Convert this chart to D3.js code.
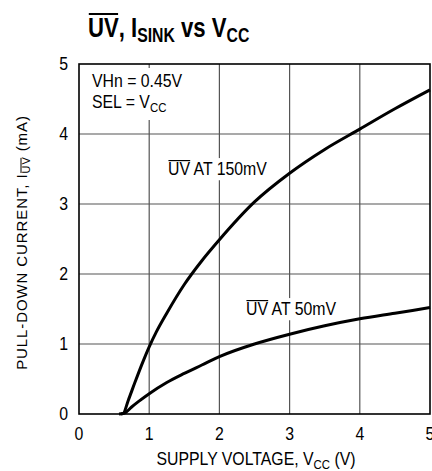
<!DOCTYPE html>
<html>
<head>
<meta charset="utf-8">
<script src="https://cdn.jsdelivr.net/npm/d3@7"></script>
<style>
	body { margin: 0; background: #fff; }
	svg { display: block; font-family: 'Liberation Sans', Arial, sans-serif; }
</style>
</head>
<body>
<script>
// tick values
var xTicks = [0, 1, 2, 3, 4, 5];
var yTicks = [0, 1, 2, 3, 4, 5];

// UV at 150mV
var vcc150 = [0.57, 0.63, 0.7, 0.8, 0.9, 1.0, 1.1, 1.25, 1.5, 1.75, 2.0, 2.5, 3.0, 3.5, 4.0, 4.5, 5.0];
var i150 = [0, 0.01, 0.19, 0.46, 0.72, 0.96, 1.17, 1.44, 1.85, 2.19, 2.49, 3.03, 3.44, 3.78, 4.07, 4.36, 4.63];

// UV at 50mV
var vcc50 = [0.6, 0.66, 0.75, 0.85, 1.0, 1.25, 1.5, 1.75, 2.0, 2.5, 3.0, 3.5, 4.0, 4.5, 5.0];
var i50 = [0, 0.02, 0.1, 0.18, 0.29, 0.45, 0.58, 0.7, 0.82, 1.0, 1.14, 1.26, 1.36, 1.44, 1.52];

var W = 432, H = 471;
var SX = 0.88; // squeeze text to look like a condensed face
var svg = d3.select('body').append('svg').attr('width', W).attr('height', H);

var x = d3.scaleLinear().domain([0, 5]).range([79, 430]);
var y = d3.scaleLinear().domain([0, 5]).range([414, 64]);

// text placed in a squeezed group
function ctext(xp, yp, size, anchor, sx) {
	var g = svg.append('g').attr('transform', 'translate(' + xp + ',' + yp + ') scale(' + (sx || SX) + ',1)');
	var t = g.append('text').attr('font-size', size).attr('text-anchor', anchor || 'start');
	return t;
}

// grid
var grid = svg.append('g');
grid.selectAll('line.gx').data(xTicks.slice(1, -1)).enter().append('line')
	.attr('x1', function(d) { return x(d); }).attr('x2', function(d) { return x(d); })
	.attr('y1', y(0)).attr('y2', y(5))
	.attr('stroke', '#555').attr('stroke-width', 1.2);
grid.selectAll('line.gy').data(yTicks.slice(1, -1)).enter().append('line')
	.attr('y1', function(d) { return y(d); }).attr('y2', function(d) { return y(d); })
	.attr('x1', x(0)).attr('x2', x(5))
	.attr('stroke', '#555').attr('stroke-width', 1.2);

// frame
svg.append('rect')
	.attr('x', x(0)).attr('y', y(5))
	.attr('width', x(5) - x(0)).attr('height', y(0) - y(5))
	.attr('fill', 'none').attr('stroke', '#000').attr('stroke-width', 1.6);

// tick labels
xTicks.forEach(function(d) {
	ctext(x(d), 440, 18, 'middle').text(d);
});
yTicks.forEach(function(d) {
	ctext(68, y(d) + 6, 18, 'end').text(d);
});

// label with white background and overlined part
function label(xp, yp, parts) {
	var t = ctext(xp, yp, 18);
	var g = d3.select(t.node().parentNode);
	var over = [];
	parts.forEach(function(p) {
		var ts = t.append('tspan').text(p.t);
		if (p.over) over.push(ts);
	});
	var b = t.node().getBBox();
	g.insert('rect', 'text').attr('fill', '#fff')
		.attr('x', b.x - 2).attr('y', b.y - 1).attr('width', b.width + 4).attr('height', b.height + 2);
	over.forEach(function(ts) {
		var ob = ts.node().getBBox();
		g.append('line').attr('x1', ob.x + 0.5).attr('x2', ob.x + ob.width - 0.5)
			.attr('y1', ob.y + 1.5).attr('y2', ob.y + 1.5)
			.attr('stroke', '#000').attr('stroke-width', 1.2);
	});
}

// curves
var line = d3.line().curve(d3.curveMonotoneX)
	.x(function(d) { return x(d[0]); })
	.y(function(d) { return y(d[1]); });

// annotation box top-left
svg.append('rect').attr('fill', '#fff').attr('x', 90).attr('y', 68).attr('width', 66).attr('height', 52);
ctext(92, 87, 18).text('VHn = 0.45V');
var a2 = ctext(92, 108, 18);
a2.append('tspan').text('SEL = V');
a2.append('tspan').attr('font-size', 13).attr('dy', 4).text('CC');

label(168, 175, [{t: 'UV', over: true}, {t: ' AT 150mV'}]);
label(246, 315, [{t: 'UV', over: true}, {t: ' AT 50mV'}]);

svg.append('path').datum(d3.zip(vcc150, i150)).attr('d', line)
	.attr('fill', 'none').attr('stroke', '#000').attr('stroke-width', 3);
svg.append('path').datum(d3.zip(vcc50, i50)).attr('d', line)
	.attr('fill', 'none').attr('stroke', '#000').attr('stroke-width', 3);

// title
var title = ctext(88, 37, 28, 'start', 0.79).attr('font-weight', 'bold');
var tUV = title.append('tspan').text('UV');
title.append('tspan').text(', I');
title.append('tspan').attr('font-size', 20).attr('dy', 5).text('SINK');
title.append('tspan').attr('dy', -5).text(' vs V');
title.append('tspan').attr('font-size', 20).attr('dy', 5).text('CC');
var tb = tUV.node().getBBox();
d3.select(title.node().parentNode).append('line')
	.attr('x1', tb.x + 1).attr('x2', tb.x + tb.width - 1)
	.attr('y1', -23).attr('y2', -23).attr('stroke', '#000').attr('stroke-width', 2);

// x axis title
var xt = ctext(256, 465, 18, 'middle');
xt.append('tspan').text('SUPPLY VOLTAGE, V');
xt.append('tspan').attr('font-size', 13).attr('dy', 4).text('CC');
xt.append('tspan').attr('dy', -4).text(' (V)');

// y axis title
var yt = svg.append('text').attr('transform', 'translate(27,' + y(2.45) + ') rotate(-90)')
	.attr('text-anchor', 'middle').attr('font-size', 15).attr('letter-spacing', 0.9);
yt.append('tspan').text('PULL-DOWN CURRENT, I');
var ytUV = yt.append('tspan').attr('font-size', 11).attr('dy', 3).text('UV');
yt.append('tspan').attr('dy', -3).text(' (mA)');
var ub = ytUV.node().getBBox();
d3.select(yt.node().parentNode).append('line')
	.attr('transform', 'translate(27,' + y(2.45) + ') rotate(-90)')
	.attr('x1', ub.x + 0.5).attr('x2', ub.x + ub.width - 1.5)
	.attr('y1', ub.y + 1).attr('y2', ub.y + 1)
	.attr('stroke', '#000').attr('stroke-width', 1);
</script>
</body>
</html>
